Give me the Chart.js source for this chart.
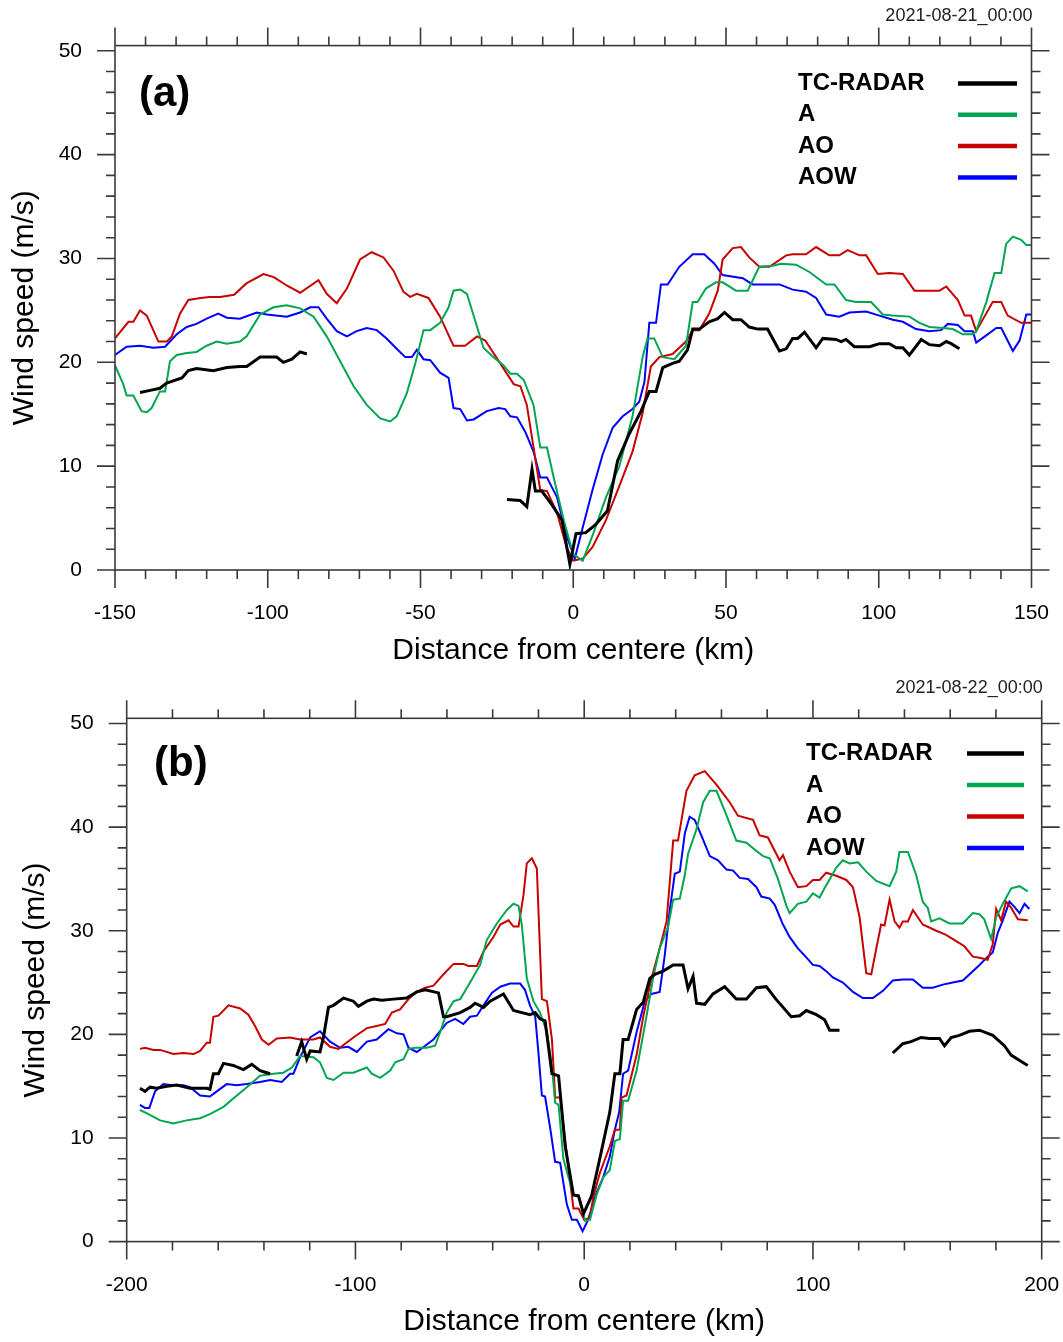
<!DOCTYPE html>
<html>
<head>
<meta charset="utf-8">
<script src="https://cdn.jsdelivr.net/npm/chart.js@4.4.0/dist/chart.umd.min.js"></script>
<style>
  body { margin: 0; background: #fff; }
  canvas { display: block; }
</style>
</head>
<body>
<canvas id="panel-a" width="1063" height="671"></canvas>
<canvas id="panel-b" width="1063" height="671"></canvas>
<script>
// ---- shared ----
const seriesNames = ['TC-RADAR', 'A', 'AO', 'AOW'];
const seriesColors = ['#000000', '#00a650', '#c80000', '#0000ff'];
const yTicks = [0, 10, 20, 30, 40, 50];

// ---- panel (a) 2021-08-21_00:00 ----
const aXTicks = [-150, -100, -50, 0, 50, 100, 150];

// TC-RADAR (null = no data)
const aRadarKm = [-141.8,-138.5,-135.3,-133.1,-128.1,-126,-123.3,-117.8,-113.4,-109.1,-106.9,-102.5,-97.1,-94.9,-92.1,-89.4,-87.2,
  -50,
  -21.7,-17.4,-15.2,-13.5,-12.4,-10.3,-7,-3.7,-1.1,0.9,4.1,7.4,11.2,14.5,18.3,22.2,24.9,27.1,29.3,32.5,34.7,37.4,39.1,41.3,44.5,47.3,49.5,52.2,54.9,57.6,60.4,63.6,67.5,69.7,71.8,73.5,75.7,79.5,81.7,86,87.7,89.3,92,97,100.2,103.5,105.7,107.9,110,113.9,116.6,119.9,122.1,123.7,126.4];
const aRadarWs = [17.1,17.3,17.5,18.0,18.5,19.2,19.4,19.2,19.5,19.6,19.6,20.5,20.5,20.0,20.3,21.0,20.8,
  null,
  6.8,6.7,6.1,9.7,7.6,7.6,6.3,4.8,0.55,3.5,3.6,4.4,5.7,10.5,13.1,15.3,17.2,17.2,19.5,19.9,20.1,21.2,23.2,23.2,23.9,24.2,24.8,24.1,24.1,23.4,23.2,23.2,21.1,21.3,22.3,22.3,22.9,21.4,22.3,22.2,22.0,22.2,21.5,21.5,21.8,21.8,21.4,21.4,20.7,22.2,21.7,21.6,22.0,21.8,21.3];

// A
const aAKm = [-150,-147.3,-146.2,-144,-141.3,-139.6,-138,-135.3,-133.6,-132,-129.8,-126.5,-123.3,-120,-116.7,-113.4,-109.1,-106.9,-102.5,-98.1,-93.8,-89.4,-85,-80.7,-76.3,-71.9,-67.6,-63.2,-59.9,-57.8,-54.5,-51.7,-49,-46.8,-43.6,-40.8,-39.2,-37,-34.8,-32.1,-29.4,-26.1,-22.8,-20.6,-18.4,-16.2,-13,-10.8,-8.6,-6.4,-3.1,0,
  3.1,6.3,10.7,15.1,19.4,22.7,24.3,26.5,29.3,33.1,36.9,39.1,40.7,43.4,46.7,48.9,53.3,57.1,60.9,65.3,68,72.9,77.3,82.8,85.5,89.3,92.6,97.5,101.3,104.6,110.1,113.3,116.6,121,124.2,127.5,130.8,131.9,135.2,137.9,140.1,141.7,143.9,146.6,148.3,150];
const aAWs = [19.7,17.9,16.8,16.8,15.3,15.2,15.6,17.2,17.2,20.1,20.7,20.9,21.0,21.6,22.0,21.8,22.0,22.5,24.6,25.3,25.5,25.2,24.4,22.5,20.1,17.7,15.9,14.6,14.3,14.8,17.0,19.9,23.1,23.1,23.8,25.3,26.9,27.0,26.6,24.0,21.4,20.5,19.7,18.9,18.9,18.3,15.9,11.8,11.8,8.9,4.8,1.5,
  0.9,3.3,7.0,10.0,14.8,20.5,22.3,22.3,20.5,20.3,21.6,25.8,25.8,27.1,27.7,27.7,26.9,26.9,29.2,29.3,29.5,29.4,28.7,27.5,27.5,26.0,25.8,25.8,24.6,24.5,24.4,23.8,23.4,23.3,23.2,22.7,22.7,23.0,25.8,28.6,28.6,31.4,32.1,31.8,31.3,31.3];

// AO
const aAoKm = [-150,-145.6,-144,-141.8,-139.6,-135.8,-133,-131.4,-128.7,-126,-122,-119,-115.6,-111,-107,-101.4,-98,-93.8,-89.4,-83.4,-80.7,-77.4,-74.1,-69.8,-66,-62.1,-58.8,-55.6,-53.4,-51.2,-47.4,-43.6,-39.2,-35.4,-31.5,-28.8,-23.9,-19.5,-17.3,-15.2,-13,-10.8,-8.6,-5.3,-2.2,0,
  3.1,6.3,10.7,15.1,19.4,22.7,25.4,28.2,32.5,36.9,39.1,41.3,44.5,47.3,48.9,52.2,54.9,57.6,60.9,64.2,69.7,71.8,76.2,79.5,83.8,87.1,89.8,93.7,95.9,99.7,103.5,107.9,111.7,115,119.9,122.1,125.9,128.1,130.2,131.9,134.6,137.3,140.1,142.2,146.6,150];
const aAoWs = [22.3,23.9,23.9,25.0,24.5,22.0,22.0,22.5,24.7,26.0,26.2,26.3,26.3,26.5,27.6,28.5,28.2,27.4,26.7,27.9,26.6,25.7,27.1,29.9,30.6,30.1,28.8,26.8,26.3,26.6,26.2,24.4,21.6,21.6,22.5,22.1,19.9,17.9,17.7,15.9,11.8,7.7,7.6,5.5,2.2,0.9,
  1.1,2.2,4.8,8.1,11.4,15.1,19.6,20.5,20.8,22.0,23.1,23.1,24.7,26.9,29.9,31.0,31.1,30.1,29.2,29.2,30.3,30.4,30.4,31.1,30.3,30.3,30.8,30.3,30.3,28.5,28.6,28.5,26.9,26.9,26.9,27.3,26.0,24.5,24.5,23.0,24.4,25.8,25.8,24.5,23.8,23.8];

// AOW
const aAowKm = [-150,-146.2,-141.8,-137.4,-133.6,-129.8,-126.5,-123.3,-120,-116.2,-113.4,-109.1,-103.6,-100.3,-93.8,-89.4,-86.1,-83.4,-80.7,-77.4,-74.1,-70.9,-67.6,-64.3,-61.1,-57.8,-55,-52.8,-51.2,-49,-46.8,-43.6,-40.8,-39.2,-37,-34.8,-32.6,-28.3,-24.4,-22.3,-20.6,-18.4,-15.7,-13,-10.8,-8.6,-5.3,-2.2,0.5,
  3.1,6.3,9.6,12.9,16.2,19.4,21.6,23.3,24.9,27.1,28.7,30.9,34.7,39.1,42.9,46.2,48.9,55.5,58.7,67.5,71.8,76.2,79.5,82.8,87.1,90.4,95.9,100.2,104.6,107.9,112.2,116.6,120.4,122.6,125.9,128.1,130.8,131.9,135.2,138.5,140.1,143.9,146.1,148.3,150];
const aAowWs = [20.7,21.5,21.6,21.4,21.5,22.7,23.4,23.7,24.2,24.7,24.3,24.2,24.8,24.6,24.4,24.8,25.3,25.3,24.2,23.0,22.5,23.0,23.3,23.1,22.3,21.3,20.5,20.5,21.2,20.3,20.2,19.0,18.5,15.6,15.5,14.4,14.5,15.3,15.6,15.5,14.8,14.7,13.3,11.4,8.9,8.9,7.0,3.3,1.1,
  4.1,7.7,11.1,13.7,14.8,15.5,16.2,18.1,23.8,23.8,27.5,27.5,29.2,30.4,30.4,29.5,28.4,28.1,27.5,27.5,27.0,26.8,26.2,24.6,24.4,24.8,24.9,24.5,24.1,23.9,23.2,23.0,23.1,23.7,23.6,23.0,23.0,21.9,22.6,23.3,23.3,21.1,22.1,24.6,24.6];

// ---- panel (b) 2021-08-22_00:00 ----
const bXTicks = [-200, -100, 0, 100, 200];

// TC-RADAR (null = no data)
const bRadarKm = [-194.2,-192,-189.8,-186.9,-182.5,-178.1,-172.3,-165,-163.6,-162.1,-159.9,-157.7,-153.4,-149,-145.3,-141.7,-137.3,
  -131,
  -125.7,-123.5,-121.3,-119.8,-115.5,-114,-111.8,-109.6,-105.2,-100.9,-98.7,-95,-92.1,-88.5,-83.4,-77.6,-73.2,-69.5,-63.7,-61.5,-60.1,-54.2,-49.9,-47.7,-44,-41.1,-35.3,-30.9,-27.3,-23.7,-21.4,-19.3,-17.1,-14.1,-11.2,-8.3,-4.7,-2.5,-0.3,3.2,6.8,11.2,13.4,15.6,17,19.2,22.9,25.8,28.7,30.9,34.5,38.9,43.2,45.4,47.6,49.1,52.7,56.3,61.4,66.5,70.9,75.3,79.6,83.8,90.5,94.2,97.1,101.5,105.1,107.3,111.6,
  123,
  134.9,139.3,142.9,147.3,150.9,155.3,157.5,160.4,164,168.4,172.8,178.6,183.7,186.6,190.2,193.9];
const bRadarWs = [14.8,14.5,14.9,14.8,15.0,15.1,14.8,14.8,14.7,16.2,16.2,17.2,17.0,16.6,17.1,16.5,16.2,
  null,
  17.9,19.3,17.6,18.4,18.3,19.7,22.6,22.8,23.5,23.2,22.7,23.2,23.4,23.3,23.4,23.5,24.1,24.3,24.0,21.7,21.7,22.1,22.6,23.0,22.6,23.2,23.9,22.3,22.1,21.9,22.1,21.5,21.3,16.2,16.0,9.2,4.5,4.4,2.7,4.4,8.0,12.5,16.2,16.2,19.5,19.5,22.4,23.1,25.4,25.8,26.1,26.7,26.7,24.4,25.6,23.0,22.9,23.9,24.6,23.4,23.4,24.5,24.6,23.4,21.7,21.8,22.3,21.9,21.4,20.4,20.4,
  null,
  18.2,19.1,19.3,19.7,19.6,19.6,18.9,19.7,19.9,20.3,20.4,19.9,18.9,18.0,17.5,17.0];

// A
const bAKm = [-194.2,-190.5,-185.4,-179.6,-173.8,-167.9,-163.6,-157.7,-153.4,-147.5,-141.7,-135.9,-131.5,-127.8,-124.2,-118.4,-115.5,-112.5,-109.6,-105.2,-100.9,-95,-92.9,-89.2,-84.8,-82.6,-79,-76.8,-73.9,-68.8,-65.2,-63,-60.1,-57.1,-54.2,-49.9,-45.5,-42.6,-38.2,-33.8,-30.9,-28.7,-27.3,-25.1,-22.2,-19.3,-16.3,-14.1,-12.7,-11.2,-9.1,-4.7,-2.5,0.4,
  2.5,5.4,8.3,11.2,13.4,15.6,17,19.2,22.9,27.2,30.1,33,36.7,38.9,41.8,44,45.4,49.1,52,54.9,57.8,61.4,66.5,70.9,75.3,78.2,81.1,84.7,88.4,89.8,93.4,97.1,100,102.9,105.8,108.7,110.2,113.1,116,119.7,123.3,127.7,133.5,136.4,137.8,141.5,145.1,148,150.2,151.7,155.3,159.7,165.5,169.9,172.8,174.9,177.9,180.1,183,186.7,190.3,193.9];
const bAWs = [12.7,12.3,11.7,11.4,11.7,11.9,12.3,13.0,13.8,14.9,16.0,16.2,16.3,16.8,17.9,17.8,17.3,15.8,15.6,16.3,16.3,16.8,16.2,15.8,16.5,17.3,17.6,18.6,18.7,18.7,18.9,20.2,22.1,23.2,23.4,25.0,26.7,29.1,30.7,32.0,32.6,32.4,30.6,25.4,23.2,22.1,20.2,16.9,13.4,13.2,8.0,4.5,4.5,2.0,
  2.1,4.5,6.2,6.9,9.7,9.9,13.6,13.6,16.5,21.7,25.4,28.3,30.4,33.0,33.1,35.4,37.4,39.8,42.4,43.5,43.5,41.6,38.7,38.5,37.7,37.2,37.0,35.0,32.4,31.7,32.6,32.8,33.6,33.2,34.4,35.5,36.1,36.8,36.5,36.6,35.7,34.8,34.3,35.7,37.6,37.6,35.4,32.8,32.2,30.9,31.2,30.7,30.7,31.7,31.6,31.1,29.2,31.3,32.6,34.1,34.3,33.8];

// AO
const bAoKm = [-194.2,-192,-188.3,-185.4,-179.6,-175.2,-170.8,-167.9,-165,-163.6,-162.1,-159.9,-155.5,-150.4,-146.8,-143.9,-140.9,-138,-134.4,-128.6,-124.2,-118.4,-115.5,-111.1,-107.4,-104.5,-100.9,-95,-90.7,-87,-84.1,-80.5,-76.8,-73.2,-69.5,-65.9,-61.5,-57.1,-52.8,-50.6,-46.9,-44,-39.7,-36.7,-33.1,-30.9,-28.7,-26.5,-25.1,-22.9,-20.7,-18.5,-16.3,-14.1,-12.7,-10.5,-7.6,-4.7,-2.5,0,
  2.5,3.9,6.8,11.2,13.4,15.6,16.3,18.5,22.9,25.8,29.4,33,36,38.9,41,44.7,48.3,52.7,57.8,63.6,67.2,73.8,76.7,80.3,85.4,86.9,89.8,93.4,97.1,100,102.9,105.8,110.2,114.6,117.5,120.4,123.3,125.5,127.7,129.8,131.3,133.5,135.7,137.8,139.3,141.5,143.7,148,153.9,158.2,162.6,166.2,169.9,172.8,176.4,178.6,180.1,182.3,184.4,186.7,189.6,193.9];
const bAoWs = [18.6,18.7,18.5,18.5,18.1,18.2,18.1,18.4,19.2,19.2,21.7,21.8,22.8,22.5,21.9,20.8,19.5,19.0,19.6,19.7,19.5,19.5,19.7,18.8,18.6,19.1,19.7,20.6,20.8,21.0,22.1,22.4,23.4,24.1,24.5,24.7,25.8,26.8,26.8,26.6,26.6,28.0,29.4,30.6,31.0,30.4,30.4,33.5,36.5,37.0,36.0,23.4,23.2,19.5,13.9,13.9,8.4,3.2,3.2,2.1,
  2.3,4.2,6.6,9.2,10.8,10.8,13.9,14.1,18.0,21.7,25.4,28.3,30.9,38.7,38.7,43.5,45.0,45.4,44.1,42.4,41.1,40.7,39.2,39.0,36.8,37.3,35.7,34.2,34.3,34.9,34.9,35.6,35.3,34.9,34.2,31.3,25.9,25.8,28.3,30.6,30.5,33.0,30.9,30.3,30.9,30.9,32.0,30.6,30.0,29.6,29.0,28.5,27.5,27.4,27.2,28.7,32.1,31.0,32.8,32.2,31.1,31.0];

// AOW
const bAowKm = [-194.2,-192,-190.1,-187.6,-184,-180.3,-175.2,-172.3,-167.9,-163.6,-160.6,-156.3,-151.9,-147.5,-141.7,-137.3,-132.2,-128.6,-127.1,-124.2,-119.8,-115.5,-111.1,-106.7,-103.1,-99.4,-95,-90.7,-85.6,-81.9,-79,-76.8,-73.2,-69.5,-65.9,-63,-60.1,-56.4,-52.8,-49.9,-46.9,-44,-40.4,-36.7,-32.4,-28,-25.9,-23.7,-21.4,-20,-18.5,-17.1,-14.9,-12.7,-10.5,-7.6,-5.4,-3.2,-0.7,
  1.7,5.4,8.3,11.2,13.4,15.3,17,19.2,22.9,26.5,29.4,33,35.2,37.4,39.6,41.8,44,46.1,48.3,51.2,54.9,58.5,62.2,65.1,68,71.6,75.3,77.4,81.1,83.3,86.9,89.8,93.4,96.4,100,102.9,105.8,108.7,113.1,117.5,121.8,126.2,130.6,134.9,139.3,143.7,148,152.4,156.8,161.1,165.5,169.9,172.8,176.4,178.6,180.8,183,185.9,188.1,190.3,192.5,194.6];
const bAowWs = [13.2,12.9,12.9,14.5,15.2,15.1,15.1,14.9,14.1,14.0,14.5,15.2,15.1,15.2,15.4,15.6,15.4,16.2,16.2,17.8,19.7,20.3,19.3,18.7,18.8,18.3,19.3,19.5,20.5,20.1,20.0,18.7,18.3,18.9,19.5,20.3,21.1,21.5,21.0,21.7,21.8,22.8,24.0,24.6,24.9,24.9,24.3,22.8,21.7,18.2,14.1,14.0,11.0,7.7,7.6,3.6,2.1,2.1,1.0,
  2.1,4.7,6.2,8.2,10.8,12.5,16.2,16.5,20.2,23.2,23.9,24.1,27.6,32.0,35.5,35.7,39.4,41.0,40.7,39.2,37.2,36.8,35.9,35.8,35.1,35.0,34.2,33.3,33.1,32.5,30.6,29.4,28.3,27.6,26.7,26.6,26.1,25.5,25.0,24.1,23.5,23.5,24.2,25.2,25.3,25.3,24.5,24.5,24.8,25.0,25.2,26.1,26.7,27.5,27.9,29.8,31.0,32.8,32.3,31.7,32.6,32.1];

const FONT = "'Liberation Sans', Arial, Helvetica, sans-serif";
Chart.defaults.font.family = FONT;
Chart.defaults.color = '#000';

function toPoints(km, ws) {
  const n = Math.min(km.length, ws.length);
  const pts = [];
  for (let i = 0; i < n; i++) pts.push({ x: km[i], y: ws[i] });
  return pts;
}

// box + NCL style outward ticks on all four sides
const frameTicks = {
  id: 'frameTicks',
  afterDraw(chart, args, o) {
    const { ctx, chartArea: a } = chart;
    const x = chart.scales.x, y = chart.scales.y;
    ctx.save();
    ctx.strokeStyle = '#3a3a3a';
    ctx.lineWidth = 1.6;
    ctx.beginPath();
    for (let k = 0; ; k++) {
      const v = x.min + k * o.xMinor;
      if (v > x.max + 1e-6) break;
      const px = x.getPixelForValue(v);
      const len = (k % o.xEvery === 0) ? 18 : 9;
      ctx.moveTo(px, a.bottom); ctx.lineTo(px, a.bottom + len);
      ctx.moveTo(px, a.top); ctx.lineTo(px, a.top - len);
    }
    for (let k = 0; ; k++) {
      const v = k * 2;
      if (v > 50) break;
      const py = y.getPixelForValue(v);
      const len = (k % 5 === 0) ? 18 : 9;
      ctx.moveTo(a.left, py); ctx.lineTo(a.left - len, py);
      ctx.moveTo(a.right, py); ctx.lineTo(a.right + len, py);
    }
    ctx.stroke();
    ctx.strokeRect(a.left, a.top, a.right - a.left, a.bottom - a.top);
    ctx.restore();
  }
};

// panel tag, time stamp and legend
const panelText = {
  id: 'panelText',
  afterDraw(chart, args, o) {
    const { ctx, chartArea: a } = chart;
    ctx.save();
    ctx.textBaseline = 'middle';
    ctx.fillStyle = '#000';
    ctx.textAlign = 'left';
    ctx.font = 'bold 42px ' + FONT;
    ctx.fillText(o.tag, o.tagX, o.tagY);

    ctx.font = '18px ' + FONT;
    ctx.fillStyle = '#222';
    ctx.textAlign = 'right';
    ctx.fillText(o.stamp, a.right + 1, o.stampY);

    ctx.font = 'bold 24px ' + FONT;
    ctx.textAlign = 'left';
    chart.data.datasets.forEach((ds, i) => {
      const yy = o.legY + i * o.legGap;
      ctx.fillStyle = '#000';
      ctx.fillText(ds.label, o.legX, yy);
      ctx.strokeStyle = ds.borderColor;
      ctx.lineWidth = 4.5;
      ctx.beginPath();
      ctx.moveTo(o.lineX0, yy);
      ctx.lineTo(o.lineX1, yy);
      ctx.stroke();
    });
    ctx.restore();
  }
};

function makePanel(id, p) {
  const datasets = p.series.map((s, i) => ({
    label: seriesNames[i],
    data: toPoints(s[0], s[1]),
    borderColor: seriesColors[i],
    borderWidth: i === 0 ? 3 : 2,
    pointRadius: 0,
    showLine: true,
    tension: 0,
    spanGaps: false,
    fill: false
  }));
  return new Chart(document.getElementById(id), {
    type: 'scatter',
    data: { datasets },
    options: {
      responsive: false,
      animation: false,
      devicePixelRatio: 1,
      layout: { padding: { left: 0, top: p.top, right: p.right, bottom: 0 } },
      plugins: {
        legend: { display: false },
        tooltip: { enabled: false },
        frameTicks: { xMinor: p.xMinor, xEvery: p.xEvery },
        panelText: p.text
      },
      scales: {
        x: {
          type: 'linear',
          min: p.xTicks[0],
          max: p.xTicks[p.xTicks.length - 1],
          afterBuildTicks: sc => { sc.ticks = p.xTicks.map(v => ({ value: v })); },
          afterFit: sc => { sc.height = p.xAxisH; },
          // invisible tick marks only push the labels down; the real ticks come from frameTicks
          grid: { display: true, drawOnChartArea: false, drawTicks: true, tickLength: 29, color: 'rgba(0,0,0,0)' },
          border: { display: false },
          ticks: { font: { size: 21 }, padding: 2, color: '#000', maxRotation: 0 },
          title: { display: true, text: 'Distance from centere (km)', font: { size: 30 }, padding: { top: 0, bottom: 2 }, color: '#000' }
        },
        y: {
          type: 'linear',
          min: 0,
          max: 50.5,
          afterBuildTicks: sc => { sc.ticks = yTicks.map(v => ({ value: v })); },
          afterFit: sc => { sc.width = p.yAxisW; },
          grid: { display: false, drawTicks: false },
          border: { display: false },
          ticks: { font: { size: 21 }, padding: 33, color: '#000' },
          title: { display: true, text: 'Wind speed (m/s)', font: { size: 30 }, padding: { top: p.yTitlePad, bottom: 0 }, color: '#000' }
        }
      }
    },
    plugins: [frameTicks, panelText]
  });
}

makePanel('panel-a', {
  series: [[aRadarKm, aRadarWs], [aAKm, aAWs], [aAoKm, aAoWs], [aAowKm, aAowWs]],
  xTicks: aXTicks, xMinor: 10, xEvery: 5,
  top: 45, right: 31.5, yAxisW: 115, xAxisH: 101, yTitlePad: 7,
  text: { tag: '(a)', tagX: 139, tagY: 94, stamp: '2021-08-21_00:00', stampY: 16,
          legX: 798, legY: 83.5, legGap: 31.3, lineX0: 958, lineX1: 1017 }
});

makePanel('panel-b', {
  series: [[bRadarKm, bRadarWs], [bAKm, bAWs], [bAoKm, bAoWs], [bAowKm, bAowWs]],
  xTicks: bXTicks, xMinor: 20, xEvery: 5,
  top: 47.3, right: 21.3, yAxisW: 126.7, xAxisH: 100.4, yTitlePad: 18,
  text: { tag: '(b)', tagX: 154, tagY: 93, stamp: '2021-08-22_00:00', stampY: 17.5,
          legX: 806, legY: 82.5, legGap: 31.5, lineX0: 967, lineX1: 1024 }
});
</script>
</body>
</html>
